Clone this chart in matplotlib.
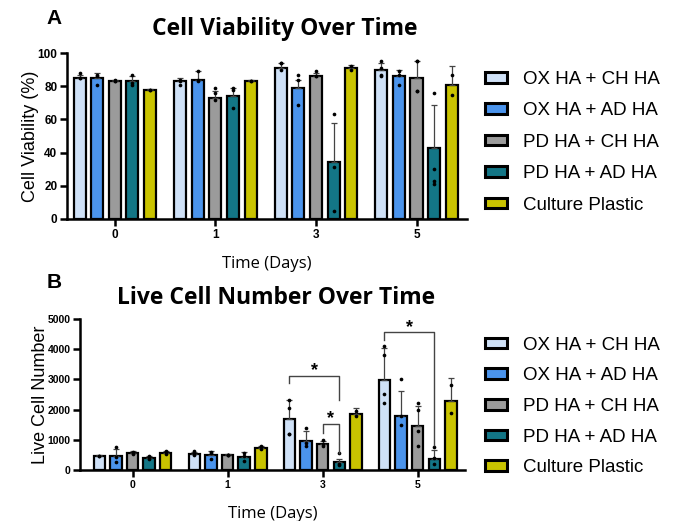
import matplotlib.pyplot as plt
from matplotlib.patches import Patch

days = ["0", "1", "3", "5"]
groups = ["OX HA + CH HA", "OX HA + AD HA", "PD HA + CH HA", "PD HA + AD HA", "Culture Plastic"]
colors = ["#cfe1f7", "#4b94ec", "#9b9b9b", "#137686", "#c9c300"]

# viability (%) - mean per group per day, upper SD
via_mean = [
    [85, 85, 83, 83, 78],
    [83, 84, 73, 74, 83],
    [91, 79, 86, 34, 91],
    [90, 86, 85, 43, 81],
]
via_sd = [
    [2, 3, 1, 3, 0.5],
    [2, 5, 4, 5, 0.5],
    [3, 5, 2, 24, 2],
    [4, 4, 10, 26, 11],
]
via_pts = [
    [[88, 85, 85], [87, 86, 81], [84, 83, 83], [87, 82, 81], [78, 78]],
    [[84, 83, 81], [89, 84, 83], [79, 76, 72], [79, 78, 67], [83, 83]],
    [[94, 94, 90], [87, 84, 69], [89, 86, 86], [63, 31, 5], [92, 90]],
    [[95, 91, 87, 86], [89, 87, 81], [95, 95, 77, 77], [76, 30, 23, 21], [87, 75]],
]

# live cell number
live_mean = [
    [470, 450, 560, 400, 560],
    [530, 480, 490, 430, 720],
    [1700, 950, 850, 250, 1850],
    [2980, 1800, 1450, 350, 2280],
]
live_sd = [
    [30, 250, 80, 60, 80],
    [80, 150, 40, 150, 80],
    [600, 350, 100, 100, 200],
    [1050, 800, 650, 300, 750],
]
live_pts = [
    [[470, 460], [750, 430, 250], [600, 550, 520], [450, 380, 350], [620, 580, 520]],
    [[640, 530, 480], [600, 550, 350], [500, 490, 480], [560, 450, 300], [790, 700]],
    [[2300, 2050, 1200, 1200], [1400, 900, 800], [1000, 850, 800], [550, 200, 150], [1950, 1800]],
    [[4100, 3800, 2500, 2200], [3000, 1800, 1500], [2200, 2000, 1300, 800], [750, 400, 200], [2800, 1900]],
]

# significance brackets: (day index, bar a, bar b, bracket height, left leg end, right leg end)
live_sig = [
    (2, 0, 3, 3110, 2870, 2320),
    (2, 2, 3, 1520, 1220, 560),
    (3, 0, 3, 4550, 4300, 830),
]

step = 0.175
width = 0.12
sans = ["Liberation Sans", "DejaVu Sans"]
head = ["Open Sans", "DejaVu Sans"]


def draw_panel(ax, means, sds, pts, ymax, yticks, ylabel, xlim, ticksize, xpad):
    for d in range(len(days)):
        for i in range(len(groups)):
            x = d + (i - 2) * step
            ax.bar(x, means[d][i], width, color=colors[i], edgecolor="black",
                   linewidth=1.6, zorder=2)
            ax.errorbar(x, means[d][i], yerr=[[0], [sds[d][i]]], fmt="none",
                        ecolor="#444444", elinewidth=0.9, capsize=2.5,
                        capthick=0.9, zorder=3)
            ax.scatter([x] * len(pts[d][i]), pts[d][i], s=7, color="black",
                       zorder=4, linewidths=0)
    ax.set_ylim(0, ymax)
    ax.set_xlim(*xlim)
    ax.set_yticks(yticks)
    ax.set_xticks(range(len(days)))
    ax.set_xticklabels(days)
    for s in ["top", "right"]:
        ax.spines[s].set_visible(False)
    for s in ["left", "bottom"]:
        ax.spines[s].set_linewidth(1.8)
    ax.tick_params(width=1.8, length=5, labelsize=ticksize, pad=2)
    for lab in ax.get_xticklabels() + ax.get_yticklabels():
        lab.set_fontweight("bold")
        lab.set_family(sans)
    ax.set_ylabel(ylabel, fontsize=13, family=sans, labelpad=-1)
    ax.set_xlabel("Time (Days)", fontsize=12, family=head, labelpad=xpad)


fig = plt.figure(figsize=(6.8, 5.21), dpi=100)

axA = fig.add_axes([0.0985, 0.580, 0.588, 0.318])
draw_panel(axA, via_mean, via_sd, via_pts, 100, [0, 20, 40, 60, 80, 100],
           "Cell Viability (%)", (-0.475, 3.5), 8.5, 11)
axA.set_title("Cell Viability Over Time", fontsize=16.5, fontweight="bold",
              family=head, pad=13, x=0.545)

axB = fig.add_axes([0.118, 0.098, 0.566, 0.290])
draw_panel(axB, live_mean, live_sd, live_pts, 5000, [0, 1000, 2000, 3000, 4000, 5000],
           "Live Cell Number", (-0.55, 3.5), 7.5, 12)
axB.set_title("Live Cell Number Over Time", fontsize=16.5, fontweight="bold",
              family=head, pad=11, x=0.51)

for d, a, b, h, ea, eb in live_sig:
    xa = d + (a - 2) * step
    xb = d + (b - 2) * step
    axB.plot([xa, xa, xb, xb], [ea, h, h, eb], color="#444444", lw=1.0, zorder=5,
             clip_on=False)
    axB.text((xa + xb) / 2, h + 20, "*", ha="center", va="baseline", fontsize=13,
             fontweight="bold", family=sans)

fig.text(0.068, 0.965, "A", fontsize=15, fontweight="bold", family=sans, va="center")
fig.text(0.068, 0.457, "B", fontsize=15, fontweight="bold", family=sans, va="center")

handles = [Patch(facecolor=c, edgecolor="black", linewidth=2.2) for c in colors]
for anchor, ls in [((0.713, 0.864), 0.77), ((0.713, 0.354), 0.73)]:
    fig.legend(handles, groups, loc="upper left", bbox_to_anchor=anchor,
               frameon=False, prop={"family": sans, "size": 13.5},
               handlelength=1.17, handleheight=0.5, handletextpad=0.85,
               labelspacing=ls, borderaxespad=0, borderpad=0)

fig.savefig("out.png", dpi=100)
